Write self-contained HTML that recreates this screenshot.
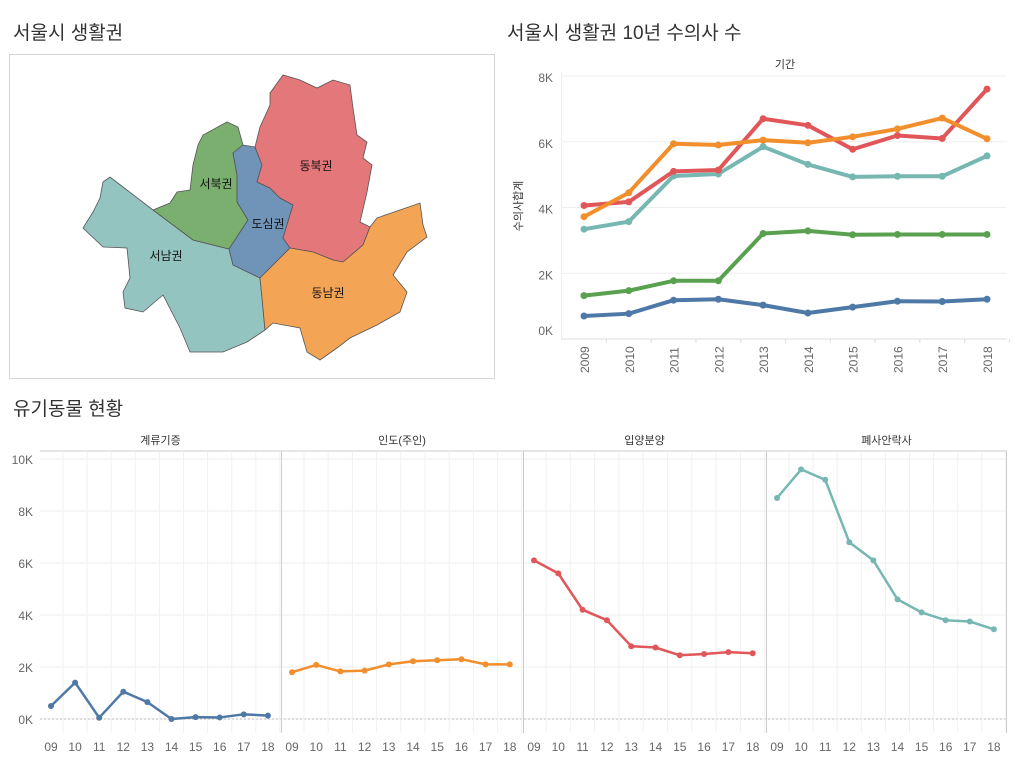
<!DOCTYPE html>
<html><head><meta charset="utf-8">
<style>
body{margin:0;background:#fff;width:1017px;height:760px;overflow:hidden;font-family:"Liberation Sans","Noto Sans CJK KR",sans-serif;}
.title{position:absolute;font-size:19px;color:#333;}
svg{position:absolute;left:0;top:0;}
</style></head>
<body>
<div class="title" style="left:13px;top:18px">서울시 생활권</div>
<div class="title" style="left:507px;top:18px">서울시 생활권 10년 수의사 수</div>
<div class="title" style="left:13px;top:394px">유기동물 현황</div>
<svg id="svg" width="1017" height="760">
<g stroke="#555" stroke-width="0.8" font-size="12" font-family="Liberation Sans, Noto Sans CJK KR, sans-serif">
<rect x="9.5" y="54.5" width="485" height="324" fill="none" stroke="#ccc"/>
<polygon fill="#93c4c0" points="153,210 110,177 103,182 100,198 93,212 83,228 103,247 127,248 130,278 123,292 125,308 143,312 163,295 180,328 190,352 223,352 247,342 265,330 262,298 260,278 233,265 229,249 193,240"/>
<polygon fill="#7aaf6f" points="243,145 238,127 227,122 203,135 198,145 193,165 190,190 177,192 170,203 153,210 193,240 229,249 248,220 237,202 237,175 233,153"/>
<polygon fill="#7093b8" points="233,153 243,145 255,147 262,165 257,182 270,188 280,198 293,205 283,238 290,248 260,278 233,265 229,249 248,220 237,202 237,175"/>
<polygon fill="#e4777a" points="255,147 260,127 270,105 270,93 283,75 300,80 317,88 333,80 350,85 353,108 357,135 367,142 363,158 372,165 367,192 360,222 370,227 363,245 343,262 333,260 313,252 290,248 283,238 293,205 280,198 270,188 257,182 262,165"/>
<polygon fill="#f4a455" points="290,248 313,252 333,260 343,262 363,245 370,227 377,218 400,210 420,203 423,225 427,237 407,252 393,275 407,292 400,312 377,325 350,338 337,348 320,360 307,352 300,328 273,323 265,330 262,298 260,278"/>
<g stroke="none" fill="#111">
<text x="316" y="170" text-anchor="middle">동북권</text>
<text x="216" y="188" text-anchor="middle">서북권</text>
<text x="268" y="228" text-anchor="middle">도심권</text>
<text x="166" y="260" text-anchor="middle">서남권</text>
<text x="328" y="297" text-anchor="middle">동남권</text>
</g>
</g>
<g id="topchart"></g>
<g id="bottomchart"></g>
</svg>
<script>
const years=["2009","2010","2011","2012","2013","2014","2015","2016","2017","2018"];
const topTicks=[0,2,4,6,8];
const vetDongbuk=[4.06,4.17,5.1,5.14,6.7,6.5,5.77,6.19,6.1,7.6];
const vetDongnam=[3.72,4.45,5.94,5.9,6.05,5.97,6.15,6.39,6.72,6.09];
const vetSeonam=[3.34,3.57,4.96,5.02,5.85,5.31,4.93,4.95,4.95,5.57];
const vetSeobuk=[1.32,1.47,1.77,1.77,3.21,3.29,3.17,3.18,3.18,3.18];
const vetDosim=[0.7,0.77,1.18,1.21,1.03,0.79,0.97,1.15,1.14,1.21];
const shortYears=["09","10","11","12","13","14","15","16","17","18"];
const panels=["계류기증","인도(주인)","입양분양","폐사안락사"];
const botTicks=[0,2,4,6,8,10];
const animalReturn=[0.5,1.4,0.05,1.05,0.65,0,0.07,0.06,0.18,0.13];
const animalOwner=[1.8,2.08,1.83,1.86,2.1,2.22,2.26,2.3,2.1,2.1];
const animalAdopt=[6.1,5.6,4.2,3.8,2.8,2.75,2.45,2.5,2.57,2.53];
const animalDeath=[8.5,9.6,9.2,6.8,6.1,4.6,4.1,3.8,3.75,3.45];
const NS="http://www.w3.org/2000/svg";
function mk(p,t,a){const e=document.createElementNS(NS,t);for(const k in a)e.setAttribute(k,a[k]);p.appendChild(e);return e;}
const F="Liberation Sans, Noto Sans CJK KR, sans-serif";
const topG=document.getElementById('topchart');
const tx=i=>584+i*(987-584)/(years.length-1);
const ty=v=>339-v*(339-76)/8;
topTicks.forEach(t=>{
 const l=mk(topG,'line',{x1:561,x2:1007,y1:ty(t),y2:ty(t),stroke:t==0?'#ddd':'#eee'});
 
 const tt=mk(topG,'text',{x:553,y:ty(t)+(t==0?-4:6),'text-anchor':'end','font-size':12,fill:'#666','font-family':F});
 tt.textContent=t+'K';
 
});
mk(topG,'line',{x1:561.5,x2:561.5,y1:72,y2:339,stroke:'#eee'});
years.forEach((y,i)=>{
 const t=mk(topG,'text',{transform:`translate(${tx(i)+5},373) rotate(-90)`,'font-size':12,fill:'#666','font-family':F});
 t.textContent=y;
 
 mk(topG,'line',{x1:tx(i)+22.4,x2:tx(i)+22.4,y1:339,y2:343,stroke:'#ddd'});
});
let e=mk(topG,'text',{x:785,y:68,'text-anchor':'middle','font-size':11,fill:'#333','font-family':F});e.textContent='기간';

e=mk(topG,'text',{transform:'translate(522,206) rotate(-90)','text-anchor':'middle','font-size':11,fill:'#333','font-family':F});e.textContent='수의사합계';

[[vetSeonam,'#76b7b2','seonam'],[vetSeobuk,'#59a14f','seobuk'],[vetDosim,'#4e79a7','dosim'],[vetDongbuk,'#e15759','dongbuk'],[vetDongnam,'#f28e2b','dongnam']].forEach(([s,c,n])=>{
 const p=mk(topG,'polyline',{points:s.map((v,i)=>tx(i)+','+ty(v)).join(' '),fill:'none',stroke:c,'stroke-width':4,'stroke-linejoin':'round'});
 
 s.forEach((v,i)=>{const d=mk(topG,'circle',{cx:tx(i),cy:ty(v),r:3.5,fill:c});
  });
});
const botG=document.getElementById('bottomchart');
const by=v=>719-v*(719-459)/10;
const pl=[40,281,523,766],pw=[241,242,243,241];
botTicks.forEach(t=>{
 const l=mk(botG,'line',{x1:40,x2:1007,y1:by(t),y2:by(t),stroke:'#eee'});
 
 const tt=mk(botG,'text',{x:33,y:by(t)+5,'text-anchor':'end','font-size':12,fill:'#666','font-family':F});
 tt.textContent=t+'K';
 
});
mk(botG,'line',{x1:40,x2:1007,y1:719,y2:719,stroke:'#bbb','stroke-dasharray':'2,2'});
mk(botG,'line',{x1:40,x2:1007,y1:451,y2:451,stroke:'#ccc'});
const series=[[animalReturn,'#4e79a7'],[animalOwner,'#f28e2b'],[animalAdopt,'#e15759'],[animalDeath,'#76b7b2']];
panels.forEach((name,k)=>{
 const x0=pl[k],w=pw[k],bx=i=>x0+11+i*w/10;
 if(k>0){mk(botG,'line',{x1:x0+0.5,x2:x0+0.5,y1:451,y2:733,stroke:'#ccc'});}
 const h=mk(botG,'text',{x:x0+w/2,y:444,'text-anchor':'middle','font-size':11,fill:'#333','font-family':F});h.textContent=name;
 
 shortYears.forEach((y,i)=>{
  mk(botG,'line',{x1:bx(i)+12,x2:bx(i)+12,y1:451,y2:733,stroke:'#f1f1f1'});
  const t=mk(botG,'text',{x:bx(i),y:751,'text-anchor':'middle','font-size':12,fill:'#666','font-family':F});t.textContent=y;
  
 });
 const [s,c]=series[k];
 const p=mk(botG,'polyline',{points:s.map((v,i)=>bx(i)+','+by(v)).join(' '),fill:'none',stroke:c,'stroke-width':2.5,'stroke-linejoin':'round'});
 
 s.forEach((v,i)=>{const d=mk(botG,'circle',{cx:bx(i),cy:by(v),r:3,fill:c});
  });
});
mk(botG,'line',{x1:1006.5,x2:1006.5,y1:451,y2:733,stroke:'#ccc'});
</script>
</body></html>
